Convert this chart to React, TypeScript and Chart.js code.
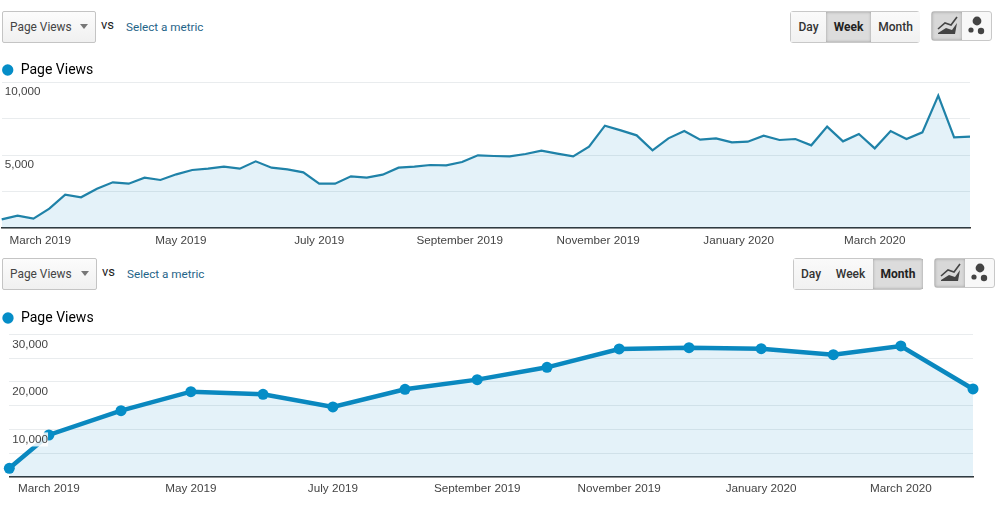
import React, { useEffect, useRef } from "react";
import { Chart, registerables } from "chart.js";

Chart.register(...registerables);

const weeklyDays = [0,7,14,21,28,35,42,49,56,63,70,77,84,91,98,105,112,119,126,133,140,147,154,161,168,175,182,189,196,203,210,217,224,231,238,245,252,259,266,273,280,287,294,301,308,315,322,329,336,343,350,357,364,371,378,385,392,399,406,413,420,427];
const weeklyViews = [594,845,639,1324,2283,2100,2694,3128,3037,3447,3288,3676,3973,4064,4201,4064,4566,4132,4018,3813,3037,3037,3539,3447,3653,4132,4201,4315,4292,4521,4977,4932,4909,5068,5297,5091,4909,5571,7009,6689,6347,5320,6142,6644,6050,6142,5868,5913,6324,6027,6096,5662,6941,5936,6438,5457,6644,6096,6553,9064,6210,6256];
const weeklyTickDays = [17,79,140,202,263,325,385];
const weeklyTickLabels = ["March 2019","May 2019","July 2019","September 2019","November 2019","January 2020","March 2020"];

const monthlyDays = [0,17,48,78,109,139,170,201,231,262,292,323,354,383,414];
const monthlyViews = [1822,8832,13949,17944,17383,14720,18435,20467,23061,26916,27196,26986,25724,27547,18505];
const monthlyTickDays = [17,78,139,201,262,323,383];
const monthlyTickLabels = ["March 2019","May 2019","July 2019","September 2019","November 2019","January 2020","March 2020"];

const seriesName = "Page Views";
const AXIS_FONT = "'Liberation Sans', Arial, sans-serif";
const UI_FONT = "Roboto, 'Liberation Sans', sans-serif";

type Cfg = {
  days: number[]; values: number[]; tickDays: number[]; tickLabels: string[];
  yMax: number; yStep: number; labelled: number[];
  lineColor: string; lineWidth: number; pointRadius: number; maxDay: number;
  padLeft: number; padRight: number; padTop: number; axisHeight: number; labelOffset: number; backdrop: boolean;
  yWidth: number; xPad: number; legendHeight: number;
};

function PlotCanvas({ cfg, top, height }: { cfg: Cfg; top: number; height: number }) {
  const ref = useRef<HTMLCanvasElement | null>(null);
  useEffect(() => {
    const legendSpacing = {
      id: "legendSpacing",
      beforeLayout(chart: any) {
        const lg = chart.legend;
        if (!lg || lg.__sized) return;
        const fit = lg.fit;
        lg.fit = function () { fit.call(this); this.height = cfg.legendHeight; };
        lg.__sized = true;
      },
    };
    const chart = new Chart(ref.current as HTMLCanvasElement, {
      type: "line",
      plugins: [legendSpacing],
      data: {
        datasets: [{
          label: seriesName,
          data: cfg.days.map((d, i) => ({ x: d, y: cfg.values[i] })),
          borderColor: cfg.lineColor,
          backgroundColor: "rgba(5,141,199,0.11)",
          borderWidth: cfg.lineWidth,
          pointRadius: cfg.pointRadius,
          pointBackgroundColor: "#058DC7",
          pointBorderColor: "#058DC7",
          pointBorderWidth: 0,
          tension: 0,
          fill: "origin",
          clip: false,
        }],
      },
      options: {
        responsive: false,
        animation: false,
        layout: { padding: { left: cfg.padLeft, right: cfg.padRight, top: cfg.padTop, bottom: 0 } },
        plugins: {
          tooltip: { enabled: false },
          legend: {
            display: true,
            position: "top",
            align: "start",
            labels: {
              usePointStyle: true,
              pointStyle: "circle",
              boxWidth: 12,
              boxHeight: 8,
              padding: 0,
              color: "#222222",
              font: { family: UI_FONT, size: 14 },
              generateLabels: () => [{
                text: seriesName, fillStyle: "#058DC7", strokeStyle: "#058DC7", lineWidth: 0,
                pointStyle: "circle", hidden: false, datasetIndex: 0,
              }],
            },
          },
        },
        scales: {
          x: {
            type: "linear",
            min: 0,
            max: cfg.maxDay,
            afterBuildTicks: (ax: any) => { ax.ticks = cfg.tickDays.map((value) => ({ value })); },
            afterFit: (ax: any) => { ax.height = cfg.axisHeight; },
            grid: { display: false, drawTicks: false },
            border: { display: true, color: "#333333", width: 1.5 },
            ticks: {
              autoSkip: false, maxRotation: 0, minRotation: 0, padding: cfg.xPad, color: "#444444",
              font: { family: AXIS_FONT, size: 11.7 },
              callback: (v: any) => cfg.tickLabels[cfg.tickDays.indexOf(Number(v))] ?? "",
            },
          },
          y: {
            min: 0,
            max: cfg.yMax,
            afterFit: (ax: any) => { ax.width = cfg.yWidth; },
            grid: { color: "#e9ecee", lineWidth: 1, drawTicks: false },
            border: { display: false },
            ticks: {
              stepSize: cfg.yStep,
              mirror: true,
              padding: 3,
              labelOffset: cfg.labelOffset,
              z: 1,
              color: "#444444",
              font: { family: AXIS_FONT, size: 11.7 },
              showLabelBackdrop: cfg.backdrop,
              backdropColor: "rgba(255,255,255,0.85)",
              backdropPadding: 0,
              callback: (v: any) => cfg.labelled.includes(Number(v)) ? Number(v).toLocaleString("en-US") : "",
            },
          },
        },
      } as any,
    });
    return () => chart.destroy();
  }, [cfg]);
  return <canvas ref={ref} width={1000} height={height} style={{ position: "absolute", left: 0, top, display: "block" }} />;
}

const box = (l: number, t: number, w: number, h: number): React.CSSProperties => ({
  position: "absolute", left: l, top: t, width: w, height: h, boxSizing: "border-box",
});

function Segment({ l, t, w, h, text, active }: { l: number; t: number; w: number; h: number; text: string; active: boolean }) {
  return (
    <div style={{
      ...box(l, t, w, h),
      display: "flex", alignItems: "center", justifyContent: "center",
      font: `${active ? 700 : 500} 12px ${UI_FONT}`, color: active ? "#222" : "#333",
      background: active ? "#dcdcdc" : "linear-gradient(#fafafa,#f1f1f1)",
      boxShadow: active ? "inset 0 0 3px #999" : "none",
    }}>{text}</div>
  );
}

function Controls({ y, dx, active, gx, w }: { y: number; dx: number; active: string; gx: number[]; w: number }) {
  const h = 32;
  const names = ["Day", "Week", "Month"];
  return (
    <>
      <div style={{
        ...box(2, y, 94 + dx, h), border: "1px solid #c4c4c4", borderRadius: 2,
        background: "linear-gradient(#fcfcfc,#f0f0f0)",
      }} />
      <div style={{ position: "absolute", left: 10, top: y + 9, font: `11.9px ${UI_FONT}`, color: "#444" }}>{seriesName}</div>
      <div style={{
        position: "absolute", left: 80 + dx, top: y + 13, width: 0, height: 0,
        borderLeft: "4px solid transparent", borderRight: "4px solid transparent", borderTop: "5px solid #777",
      }} />
      <div style={{ position: "absolute", left: 101 + dx, top: y + 6, font: `13px ${UI_FONT}`, color: "#222" }}>vs</div>
      <div style={{ position: "absolute", left: 126 + dx, top: y + 9, font: `11.7px ${UI_FONT}`, color: "#1f6488" }}>Select a metric</div>
      <div style={{ ...box(gx[0] - 1, y, w, h), border: "1px solid #c8c8c8", borderRadius: 3 }} />
      {names.map((n, i) => (
        <Segment key={n} l={gx[i]} t={y + 1} w={gx[i + 1] - gx[i]} h={h - 2} text={n} active={n === active} />
      ))}
    </>
  );
}

function Icons({ x, y }: { x: number; y: number }) {
  return (
    <>
      <div style={{ ...box(x, y, 61, 30), border: "1px solid #c8c8c8", borderRadius: 3, background: "#f8f8f8" }} />
      <div style={{ ...box(x + 1, y + 1, 30, 28), background: "#d8d8d8", boxShadow: "inset 0 0 3px #999" }} />
      <svg width="61" height="30" style={{ position: "absolute", left: x, top: y }}>
        <path d="M7 22 L15 17 L21 19 L26 12 L24 23 L7 23 Z" fill="#444" />
        <path d="M7 18 L14 12 L20 14 L26 6" fill="none" stroke="#444" strokeWidth="1.6" />
        <circle cx="46" cy="10" r="4.4" fill="#444" />
        <circle cx="40" cy="19" r="2.6" fill="#444" />
        <circle cx="50" cy="20" r="3.2" fill="#444" />
      </svg>
    </>
  );
}

const topCfg: Cfg = {
  days: weeklyDays, values: weeklyViews, tickDays: weeklyTickDays, tickLabels: weeklyTickLabels,
  yMax: 10000, yStep: 2500, labelled: [5000, 10000], lineColor: "#1f82a8", lineWidth: 2.2, pointRadius: 0, maxDay: 427,
  padLeft: 1.7, padRight: 30, padTop: 0, axisHeight: 22, labelOffset: 10, backdrop: false, yWidth: 0, xPad: 5.5, legendHeight: 19,
};
const bottomCfg: Cfg = {
  days: monthlyDays, values: monthlyViews, tickDays: monthlyTickDays, tickLabels: monthlyTickLabels,
  yMax: 30000, yStep: 5000, labelled: [10000, 20000, 30000], lineColor: "#0a88bf", lineWidth: 4.5, pointRadius: 5.5, maxDay: 414,
  padLeft: 2, padRight: 27, padTop: 5, axisHeight: 23, labelOffset: 10, backdrop: true, yWidth: 7.3, xPad: 5, legendHeight: 23.3,
};

export default function App() {
  return (
    <div style={{ position: "absolute", left: 0, top: 0, width: 1000, height: 509, background: "#fff", overflow: "hidden" }}>
      <PlotCanvas cfg={topCfg} top={63} height={187} />
      <PlotCanvas cfg={bottomCfg} top={306} height={194} />
      <Controls y={11} dx={0} active="Week" gx={[791, 826, 871, 920]} w={130} />
      <Icons x={931} y={11} />
      <Controls y={258} dx={1} active="Month" gx={[794, 828, 873, 923]} w={130} />
      <Icons x={934} y={258} />
    </div>
  );
}
